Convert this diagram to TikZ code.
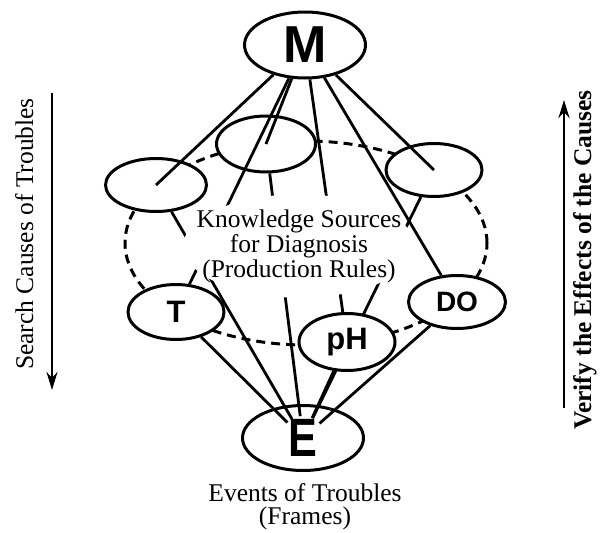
\documentclass[tikz,border=0pt]{standalone}
\usepackage{fontspec}
\setmainfont{Liberation Serif}
\newfontfamily\lettfont{Liberation Sans}
\newfontfamily\lettnarrow[FakeStretch=0.8]{Liberation Sans}
\usetikzlibrary{arrows.meta,shapes.geometric}
\pgfdeclarelayer{ringl}
\pgfdeclarelayer{backl}
\pgfdeclarelayer{wirel}
\pgfsetlayers{ringl,backl,wirel,main}
\tikzset{
  blob/.style={ellipse, draw, line width=3pt, fill=white, inner sep=0pt},
  loopl/.style={ellipse, draw, line width=3pt, dash pattern=on 9pt off 6pt, inner sep=0pt},
  wire/.style={line width=2.8pt},
  bigl/.style={font=\lettfont\bfseries\fontsize{52}{52}\selectfont},
  midl/.style={font=\lettfont\bfseries\fontsize{31}{31}\selectfont},
  txt/.style={font=\fontsize{25.5}{25}\selectfont, align=center, inner sep=0pt},
  ar/.style={-{Stealth[length=18pt, width=11pt]}, line width=2.6pt},
}

\begin{document}
\begin{tikzpicture}[x=1pt, y=-1pt]
  \useasboundingbox (0,0) rectangle (611,533);
  % --- dashed ring ---
  \begin{pgfonlayer}{ringl}
    \node[loopl, minimum width=362pt, minimum height=204pt] (ring) at (306,243) {};
  \end{pgfonlayer}

  % --- back ellipses ---
  \begin{pgfonlayer}{backl}
    \node[blob, minimum width=101pt, minimum height=53pt] (kl) at (156,185) {};
    \node[blob, minimum width=99pt,  minimum height=56pt] (kt) at (266,144) {};
    \node[blob, minimum width=96pt,  minimum height=53pt] (kr) at (434,170) {};
    \node[blob, font=\lettnarrow\bfseries\fontsize{54}{54}\selectfont,
          minimum width=121pt, minimum height=65pt] (E) at (303,438) {E};
  \end{pgfonlayer}

  % --- front ellipses ---
  \node[blob, midl, minimum width=96pt, minimum height=55pt] (T)  at (176,312) {T};
  \node[blob, midl, minimum width=96pt, minimum height=57pt] (pH) at (347,342) {pH};
  \node[blob, midl, font=\lettfont\bfseries\fontsize{28}{28}\selectfont,
        minimum width=97pt, minimum height=53pt] (DO) at (457,302) {DO};
  \node[blob, bigl, minimum width=121pt, minimum height=66pt] (M) at (305,45) {M};
  \node[txt, ellipse, fill=white, inner xsep=-20.5pt, inner ysep=0pt] (ks) at (299,246)
       {Knowledge Sources\\for Diagnosis\\(Production Rules)};

  % --- wires ---
  \begin{pgfonlayer}{wirel}
    \draw[wire] (M) -- (kl.center);
    \draw[wire] (M) -- (kt.center);
    \draw[wire] (M) -- (kr.center);
    \draw[wire] (M) -- (T);
    \draw[wire] (M) -- (pH);
    \draw[wire] (M) -- (DO);
    \foreach \k in {kl,kt,kr,T,pH,DO}
      \draw[wire, shorten <=22pt] (E.center) -- (\k);
  \end{pgfonlayer}

  % --- side arrows ---
  \coordinate (sTop) at (52,93);
  \coordinate (sBot) at (52,390);
  \draw[ar] (sTop) -- (sBot);
  \node[txt, rotate=90, anchor=base] (search) at (33,234) {Search Causes of Troubles};
  \coordinate (vBot) at (564,408);
  \coordinate (vTop) at (564,100);
  \draw[ar] (vBot) -- (vTop);
  \node[txt, font=\fontsize{25.5}{25}\selectfont\bfseries, rotate=90, anchor=base] (verify)
       at (591,260) {Verify the Effects of the Causes};

  \node[txt, font=\fontsize{25.5}{23}\selectfont] (events) at (305,507) {Events of Troubles\\(Frames)};
\end{tikzpicture}
\end{document}
